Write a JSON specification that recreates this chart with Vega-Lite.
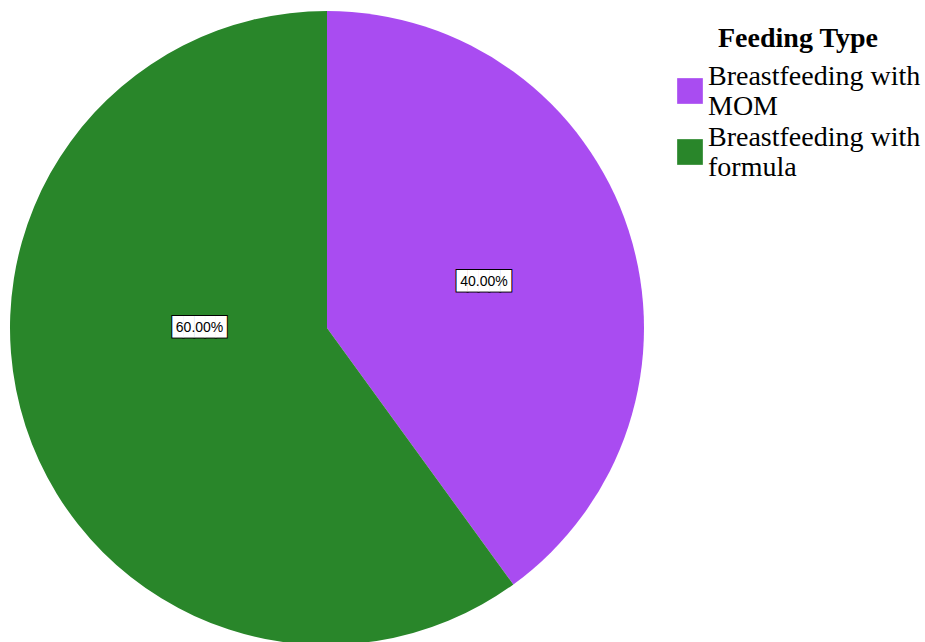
{
  "$schema": "https://vega.github.io/schema/vega-lite/v6.json",
  "width": 654,
  "height": 656,
  "autosize": {"type": "none"},
  "padding": {"left": 0, "top": 0, "right": 271, "bottom": 0},
  "background": "white",
  "config": {"view": {"stroke": null}},
  "data": {
    "values": [
      {"type": "Breastfeeding with MOM", "pct": 0.4},
      {"type": "Breastfeeding with formula", "pct": 0.6}
    ]
  },
  "encoding": {
    "theta": {"field": "pct", "type": "quantitative", "stack": true},
    "color": {
      "field": "type",
      "type": "nominal",
      "scale": {
        "domain": ["Breastfeeding with MOM", "Breastfeeding with formula"],
        "range": ["#a94cf1", "#29862a"]
      },
      "legend": {
        "title": "Feeding Type",
        "orient": "none",
        "legendX": 676,
        "legendY": 25,
        "padding": 0,
        "titleFont": "Liberation Serif",
        "titleFontSize": 28,
        "titleFontWeight": "bold",
        "titleColor": "black",
        "titleAnchor": "middle",
        "titlePadding": 24,
        "labelFont": "Liberation Serif",
        "labelFontSize": 28,
        "labelColor": "black",
        "labelBaseline": "bottom",
        "labelLimit": 400,
        "labelOffset": 4,
        "symbolType": "square",
        "symbolSize": 660,
        "symbolStrokeWidth": 0,
        "symbolOpacity": 1,
        "rowPadding": 3,
        "labelExpr": "split(replace(datum.label, 'with ', 'with|'), '|')"
      }
    }
  },
  "layer": [
    {"mark": {"type": "arc", "outerRadius": 317, "strokeWidth": 0}},
    {
      "mark": {"type": "text", "radius": 165, "dy": 5, "font": "DejaVu Sans Mono", "fontSize": 18, "stroke": "black", "strokeWidth": 2},
      "encoding": {
        "color": {"value": "black"},
        "detail": {"field": "type"},
        "text": {"condition": {"test": "datum.type === 'Breastfeeding with MOM'", "value": "█████"}, "value": ""}
      }
    },
    {
      "mark": {"type": "text", "radius": 165, "dy": 5, "font": "DejaVu Sans Mono", "fontSize": 18},
      "encoding": {
        "color": {"value": "white"},
        "detail": {"field": "type"},
        "text": {"condition": {"test": "datum.type === 'Breastfeeding with MOM'", "value": "█████"}, "value": ""}
      }
    },
    {
      "mark": {"type": "text", "radius": 165, "dy": 5, "font": "Liberation Sans", "fontSize": 14},
      "encoding": {
        "color": {"value": "black"},
        "detail": {"field": "type"},
        "text": {"condition": {"test": "datum.type === 'Breastfeeding with MOM'", "field": "pct", "type": "quantitative", "format": ".2%"}, "value": ""}
      }
    },
    {
      "mark": {"type": "text", "radius": 134, "dy": -41, "font": "DejaVu Sans Mono", "fontSize": 18, "stroke": "black", "strokeWidth": 2},
      "encoding": {
        "color": {"value": "black"},
        "detail": {"field": "type"},
        "text": {"condition": {"test": "datum.type === 'Breastfeeding with formula'", "value": "█████"}, "value": ""}
      }
    },
    {
      "mark": {"type": "text", "radius": 134, "dy": -41, "font": "DejaVu Sans Mono", "fontSize": 18},
      "encoding": {
        "color": {"value": "white"},
        "detail": {"field": "type"},
        "text": {"condition": {"test": "datum.type === 'Breastfeeding with formula'", "value": "█████"}, "value": ""}
      }
    },
    {
      "mark": {"type": "text", "radius": 134, "dy": -41, "font": "Liberation Sans", "fontSize": 14},
      "encoding": {
        "color": {"value": "black"},
        "detail": {"field": "type"},
        "text": {"condition": {"test": "datum.type === 'Breastfeeding with formula'", "field": "pct", "type": "quantitative", "format": ".2%"}, "value": ""}
      }
    }
  ]
}
